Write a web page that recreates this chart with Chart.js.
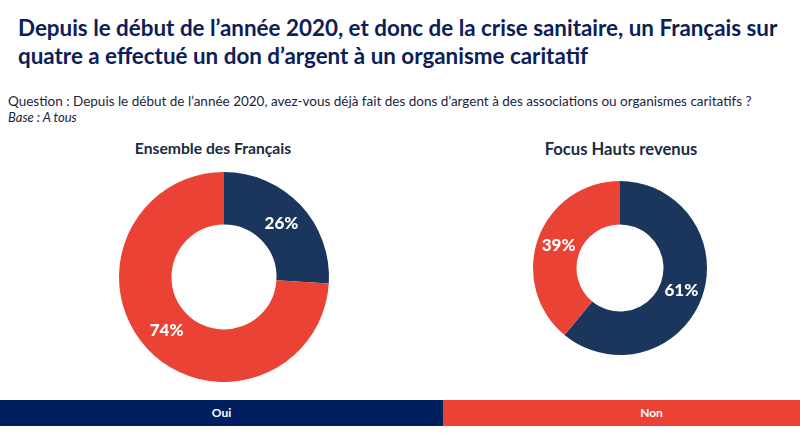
<!DOCTYPE html>
<html lang="fr">
<head>
    <meta charset="UTF-8">
    <title>Dons 2020</title>
    <script src="https://cdn.jsdelivr.net/npm/chart.js"></script>
    <style>
        body {
            margin: 0;
            width: 800px;
            height: 434px;
            position: relative;
            overflow: hidden;
            background: #fff;
            font-family: Lato, sans-serif;
        }
        .txt { position: absolute; white-space: nowrap; }
        #title { left: 18px; top: 14px; font-size: 22.4px; line-height: 28px; font-weight: 700; color: #0b2058; }
        #question { left: 8px; top: 93px; font-size: 13.5px; line-height: 16px; color: #1a2440; }
        #base { left: 8px; top: 109px; font-size: 13px; line-height: 16px; font-style: italic; color: #1a2440; }
        .head { font-weight: 700; color: #1c2a3e; text-align: center; transform: translateX(-50%); }
        #head1 { left: 213px; top: 139px; font-size: 15.7px; }
        #head2 { left: 621px; top: 139px; font-size: 16.6px; }
        .pie { position: absolute; }
        #pie1 { left: 114px; top: 167px; width: 220px; height: 220px; }
        #pie2 { left: 525px; top: 173px; width: 190px; height: 190px; }
        .bar { position: absolute; top: 400px; height: 26px; line-height: 26px; color: #fff; font-size: 12px; font-weight: 700; text-align: center; }
        #oui { left: 0; width: 443px; background: #001f5f; }
        #non { left: 443px; width: 357px; background: #ea4335; text-indent: 60px; }
    </style>
</head>
<body>
    <div class="txt" id="title">Depuis le début de l’année 2020, et donc de la crise sanitaire, un Français sur<br>quatre a effectué un don d’argent à un organisme caritatif</div>
    <div class="txt" id="question">Question : Depuis le début de l’année 2020, avez-vous déjà fait des dons d’argent à des associations ou organismes caritatifs ?</div>
    <div class="txt" id="base">Base : A tous</div>
    <div class="txt head" id="head1">Ensemble des Français</div>
    <div class="txt head" id="head2">Focus Hauts revenus</div>
    <div class="pie" id="pie1"><canvas id="c1"></canvas></div>
    <div class="pie" id="pie2"><canvas id="c2"></canvas></div>
    <div class="bar" id="oui">Oui</div>
    <div class="bar" id="non">Non</div>

    <script>
        const answers = ['Oui', 'Non'];
        const ensemble = [26, 74];
        const hautsRevenus = [61, 39];
        const sliceColors = ['#1a365d', '#ea4335'];

        // writes the percent in the middle of each ring slice
        const percentLabels = {
            id: 'percentLabels',
            afterDatasetsDraw(chart) {
                const ctx = chart.ctx;
                const values = chart.data.datasets[0].data;
                ctx.save();
                ctx.fillStyle = '#fff';
                ctx.font = '900 17px Lato, sans-serif';
                ctx.textAlign = 'center';
                ctx.textBaseline = 'middle';
                chart.getDatasetMeta(0).data.forEach((arc, i) => {
                    const pos = arc.tooltipPosition();
                    ctx.fillText(values[i] + '%', pos.x, pos.y);
                });
                ctx.restore();
            }
        };

        const makeDonut = (id, values, radius, cutout) => new Chart(document.getElementById(id), {
            type: 'doughnut',
            data: {
                labels: answers,
                datasets: [{ data: values, backgroundColor: sliceColors, borderWidth: 0 }]
            },
            options: {
                responsive: true,
                maintainAspectRatio: true,
                animation: false,
                radius: radius,
                cutout: cutout,
                plugins: { legend: { display: false }, tooltip: { enabled: false } }
            },
            plugins: [percentLabels]
        });

        makeDonut('c1', ensemble, 105, '50%');
        makeDonut('c2', hautsRevenus, 87, '50%');
    </script>
</body>
</html>
